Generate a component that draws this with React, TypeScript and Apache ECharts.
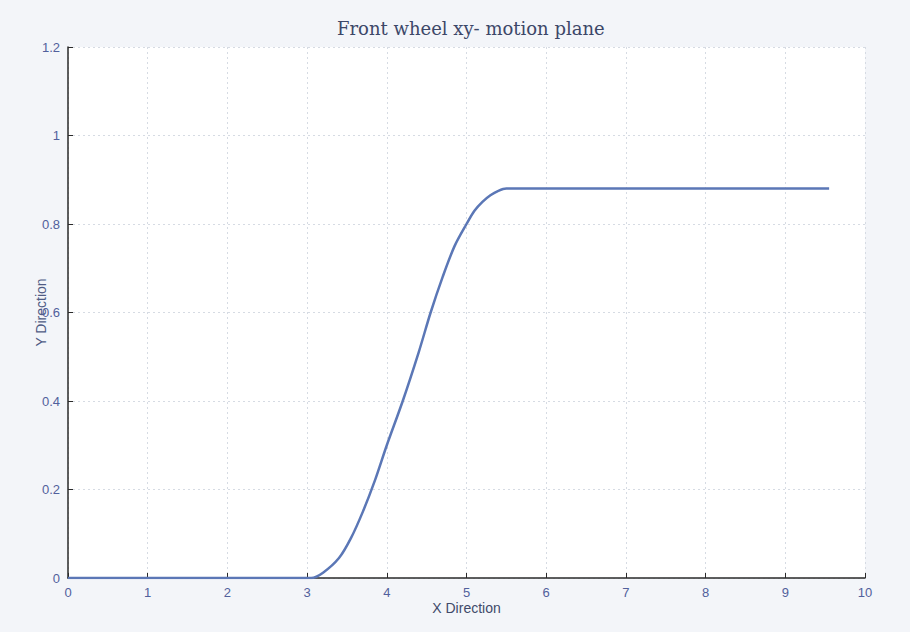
import React, { useEffect, useRef } from "react";
import * as echarts from "echarts";

const xValues = [0, 1, 2, 3, 3.05, 3.2, 3.4, 3.55, 3.7, 3.85, 4.0, 4.2, 4.4, 4.55, 4.7, 4.85, 5.0, 5.1, 5.2, 5.3, 5.4, 5.5, 6, 7, 8, 9, 9.55];
const yValues = [0, 0, 0, 0, 0.0, 0.012, 0.045, 0.09, 0.15, 0.22, 0.3, 0.4, 0.51, 0.6, 0.68, 0.75, 0.8, 0.83, 0.85, 0.865, 0.875, 0.88, 0.88, 0.88, 0.88, 0.88, 0.88];
const titleText = "Front wheel xy- motion plane";
const xName = "X Direction";
const yName = "Y Direction";

export default function App() {
  const ref = useRef<HTMLDivElement>(null);
  useEffect(() => {
    const chart = echarts.init(ref.current!, null, { renderer: "svg" });
    const labelColor = "#51609c";
    chart.setOption({
      animation: false,
      backgroundColor: "#f3f5f9",
      title: {
        text: titleText,
        left: 332,
        top: 14,
        textStyle: { fontFamily: "DejaVu Serif", fontWeight: "normal", fontSize: 18, color: "#3c4768" },
      },
      grid: { left: 68, right: 45, top: 47, bottom: 54, show: true, backgroundColor: "#ffffff", borderWidth: 0 },
      xAxis: {
        type: "value",
        min: 0,
        max: 10,
        interval: 1,
        name: xName,
        nameLocation: "middle",
        nameGap: 23,
        nameMoveOverlap: false,
        nameTextStyle: { color: "#3f4a6a", fontSize: 14, fontFamily: "Liberation Sans" },
        axisLine: { lineStyle: { color: "#2a2a2a", width: 1.5 } },
        axisTick: { inside: true, length: 5, lineStyle: { color: "#2a2a2a" } },
        axisLabel: { color: labelColor, fontSize: 13, margin: 8, fontFamily: "Liberation Sans" },
        splitLine: { show: true, lineStyle: { color: "#d6dbe3", type: [2, 3] } },
      },
      yAxis: {
        type: "value",
        min: 0,
        max: 1.2,
        interval: 0.2,
        name: yName,
        nameLocation: "middle",
        nameGap: 20,
        nameMoveOverlap: false,
        nameTextStyle: { color: "#4f5b84", fontSize: 14, fontFamily: "Liberation Sans" },
        axisLine: { show: true, lineStyle: { color: "#2a2a2a", width: 1.5 } },
        axisTick: { show: true, inside: true, length: 5, lineStyle: { color: "#2a2a2a" } },
        axisLabel: {
          color: labelColor,
          fontSize: 13,
          margin: 8,
          fontFamily: "Liberation Sans",
          formatter: (v: number) => String(+v.toFixed(1)),
        },
        splitLine: { show: true, lineStyle: { color: "#d6dbe3", type: [2, 3] } },
      },
      series: [
        {
          type: "line",
          data: xValues.map((x, i) => [x, yValues[i]]),
          smooth: 0.3,
          showSymbol: false,
          lineStyle: { color: "#5b77b6", width: 2.5 },
        },
      ],
    });
    return () => chart.dispose();
  }, []);
  return <div ref={ref} style={{ position: "fixed", left: 0, top: 0, width: 910, height: 632 }} />;
}
